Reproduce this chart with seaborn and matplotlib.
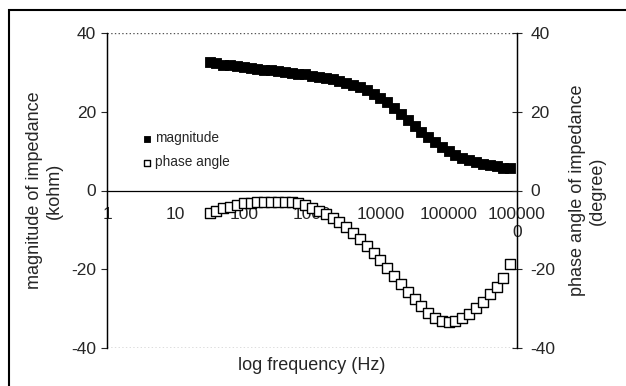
import numpy as np
import pandas as pd
import matplotlib
matplotlib.use('Agg')
import matplotlib.pyplot as plt
import seaborn as sns
from matplotlib.patches import Rectangle

# frequency points: 10 per decade, 10^1.5 ... 10^5.9 Hz
log_freq = [1.5, 1.6, 1.7, 1.8, 1.9, 2.0, 2.1, 2.2, 2.3, 2.4,
            2.5, 2.6, 2.7, 2.8, 2.9, 3.0, 3.1, 3.2, 3.3, 3.4,
            3.5, 3.6, 3.7, 3.8, 3.9, 4.0, 4.1, 4.2, 4.3, 4.4,
            4.5, 4.6, 4.7, 4.8, 4.9, 5.0, 5.1, 5.2, 5.3, 5.4,
            5.5, 5.6, 5.7, 5.8, 5.9]

# magnitude of impedance (kohm)
magnitude = [32.6, 32.3, 32.0, 31.8, 31.5, 31.3, 31.1, 30.9, 30.7, 30.5,
             30.3, 30.1, 29.9, 29.7, 29.5, 29.2, 28.9, 28.6, 28.2, 27.8,
             27.4, 26.9, 26.3, 25.5, 24.6, 23.6, 22.4, 21.0, 19.5, 18.0,
             16.4, 14.9, 13.5, 12.2, 11.0, 10.0, 9.1, 8.3, 7.7, 7.2,
             6.8, 6.4, 6.1, 5.8, 5.6]

# phase angle of impedance (degree)
phase = [-5.8, -5.2, -4.5, -4.1, -3.6, -3.3, -3.1, -2.9, -2.8, -2.8,
         -2.8, -2.9, -3.0, -3.3, -3.8, -4.4, -5.1, -6.0, -7.0, -8.1,
         -9.3, -10.7, -12.3, -14.0, -15.8, -17.7, -19.7, -21.7, -23.7, -25.7,
         -27.6, -29.4, -31.0, -32.3, -33.1, -33.4, -33.1, -32.4, -31.3, -29.9,
         -28.2, -26.4, -24.4, -22.3, -18.6]

tick_freqs = [1, 10, 100, 1000, 10000, 100000, 1000000]
tick_labels = ['1', '10', '100', '1000', '10000', '100000', '100000\n0']

data = pd.DataFrame({'freq': [10 ** v for v in log_freq],
                     'magnitude': magnitude, 'phase': phase})

sns.set_style('white')
plt.rcParams['font.family'] = ['Liberation Sans', 'DejaVu Sans']
plt.rcParams['axes.unicode_minus'] = False

fig = plt.figure(figsize=(6.26, 3.86), dpi=100)
ax = fig.add_axes([107 / 626, 1 - 348 / 386, 410 / 626, 315 / 386])
ax2 = ax.twinx()

#magnitude: filled squares
sns.scatterplot(x='freq', y='magnitude', data=data, ax=ax, marker='s', s=42,
                color='black', edgecolor='black', linewidth=0.6, label='magnitude', zorder=3)

#phase angle: open squares
sns.scatterplot(x='freq', y='phase', data=data, ax=ax2, marker='s', s=42,
                facecolor='white', edgecolor='black', linewidth=1.0, label='phase angle', zorder=3)

for a in (ax, ax2):
    a.set_xscale('log')
    a.set_xlim(1, 1000000)
    a.set_ylim(-40, 40)
    a.set_yticks([-40, -20, 0, 20, 40])
    a.set_xlabel('')
    a.set_ylabel('')

ax.xaxis.set_major_locator(matplotlib.ticker.FixedLocator(tick_freqs))
ax.xaxis.set_major_formatter(matplotlib.ticker.FixedFormatter(tick_labels))
ax.xaxis.set_minor_locator(matplotlib.ticker.NullLocator())
ax.tick_params(axis='x', direction='out', length=4, width=0.8, pad=8, color='black', labelsize=12.5)
ax.tick_params(axis='y', direction='out', length=4, width=0.8, labelsize=12.5, pad=4, left=True)
ax2.tick_params(axis='y', direction='inout', length=7, width=0.8, labelsize=12.5, pad=6, right=True)
for t in ax.get_xticklabels():
    t.set_linespacing(0.95)

#x axis crossing at zero
ax.spines['bottom'].set_position(('data', 0))
for a in (ax, ax2):
    a.spines['top'].set_visible(False)
    for s in ['left', 'right', 'bottom']:
        a.spines[s].set_color('black')
        a.spines[s].set_linewidth(0.9)
ax2.spines['bottom'].set_visible(False)

#dotted gridlines at the top and bottom
ax.axhline(40, color='#555555', ls=':', lw=1.0, zorder=1)
ax.axhline(-40, color='#555555', ls=':', lw=1.0, zorder=1)

ax.set_ylabel('magnitude of impedance\n(kohm)', fontsize=13, labelpad=6)
ax2.set_ylabel('phase angle of impedance\n(degree)', fontsize=13, labelpad=10)
fig.text(312 / 626, 1 - 366 / 386, 'log frequency (Hz)', ha='center', va='center', fontsize=13)

#combined legend
h1, l1 = ax.get_legend_handles_labels()
h2, l2 = ax2.get_legend_handles_labels()
if ax2.get_legend():
    ax2.get_legend().remove()
ax.legend(h1 + h2, l1 + l2, loc='center left', bbox_to_anchor=(0.07, 0.628), frameon=False,
          fontsize=9.8, handlelength=0.6, handletextpad=0.3, labelspacing=0.75,
          borderpad=0, markerscale=0.75)

#outer chart border
fig.patches.append(Rectangle((9 / 626, -0.2), 1.2, 1.2 - 10 / 386, transform=fig.transFigure,
                             fill=False, edgecolor='black', linewidth=1.5))

fig.savefig('out.png', dpi=100)
